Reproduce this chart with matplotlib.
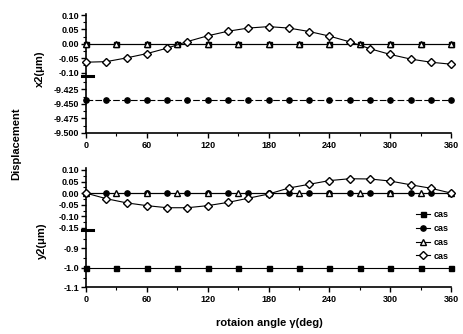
import matplotlib
matplotlib.use("Agg")
import matplotlib.pyplot as plt
from matplotlib.ticker import MultipleLocator, FormatStrFormatter
from matplotlib.lines import Line2D

plt.rcParams['font.family'] = ['Liberation Sans', 'DejaVu Sans']
plt.rcParams['font.weight'] = 'bold'
plt.rcParams['axes.unicode_minus'] = False

# 數據 (讀圖估計)
ang20 = [0, 20, 40, 60, 80, 100, 120, 140, 160, 180, 200, 220, 240, 260, 280, 300, 320, 340, 360]
ang30 = [0, 30, 60, 90, 120, 150, 180, 210, 240, 270, 300, 330, 360]

# x2 (top)
x2_case1 = [0.0, 0.0, 0.0, 0.0, 0.0, 0.0, 0.0, 0.0, 0.0, 0.0, 0.0, 0.0, 0.0]
x2_case2 = [-9.443] * 19
x2_case3 = [0.0, 0.0, 0.0, 0.0, 0.0, 0.0, 0.0, 0.0, 0.0, 0.0, 0.0, 0.0, 0.0]
x2_case4 = [-0.064, -0.062, -0.049, -0.034, -0.015, 0.008, 0.028, 0.044, 0.055, 0.060,
            0.055, 0.043, 0.027, 0.007, -0.017, -0.037, -0.053, -0.064, -0.071]

# y2 (bottom)
y2_case1 = [-1.0, -1.0, -1.0, -1.0, -1.0, -1.0, -1.0, -1.0, -1.0, -1.0, -1.0, -1.0, -1.0]
y2_case2 = [0.0] * 19
y2_case3 = [0.0, 0.0, 0.0, 0.0, 0.0, 0.0, 0.0, 0.0, 0.0, 0.0, 0.0, 0.0, 0.0]
y2_case4 = [0.0, -0.024, -0.042, -0.054, -0.063, -0.063, -0.054, -0.040, -0.022, -0.004,
            0.022, 0.038, 0.054, 0.062, 0.061, 0.052, 0.036, 0.021, 0.0]

legend_labels = ["cas", "cas", "cas", "cas"]

# 線型
sty1 = dict(color='k', lw=0.8, marker='s', ms=3.6, mfc='k', mec='k')
sty2 = dict(color='k', lw=0.8, marker='o', ms=3.8, mfc='k', mec='k')
sty3 = dict(color='k', lw=0.8, marker='^', ms=4.3, mfc='white', mec='k', mew=1.0)
sty4 = dict(color='k', lw=0.8, marker='D', ms=3.9, mfc='white', mec='k', mew=1.0)

fig = plt.figure(figsize=(4.64, 3.34), dpi=100)
L, W = 0.1853, 0.787
ax_tu = fig.add_axes([L, 0.7725, W, 0.1856])
ax_tl = fig.add_axes([L, 0.6018, W, 0.1707])
ax_bu = fig.add_axes([L, 0.3114, W, 0.1847])
ax_bl = fig.add_axes([L, 0.1398, W, 0.1716])

# 上圖 (斷軸: 每條線畫在它所在的那一段)
ax_tu.plot(ang30, x2_case1, zorder=2, clip_on=False, **sty1)
ax_tl.plot(ang20, x2_case2, zorder=2, clip_on=False, dashes=(6, 2), **sty2)
ax_tu.plot(ang30, x2_case3, zorder=3, clip_on=False, **sty3)
ax_tu.plot(ang20, x2_case4, zorder=4, clip_on=False, **sty4)
ax_tu.set_ylim(-0.112, 0.104)
ax_tl.set_ylim(-9.5, -9.402)

# 下圖
ax_bl.plot(ang30, y2_case1, zorder=2, clip_on=False, **sty1)
ax_bu.plot(ang20, y2_case2, zorder=2, clip_on=False, **sty2)
ax_bu.plot(ang30, y2_case3, zorder=3, clip_on=False, **sty3)
ax_bu.plot(ang20, y2_case4, zorder=4, clip_on=False, **sty4)
ax_bu.set_ylim(-0.159, 0.107)
ax_bl.set_ylim(-1.1, -0.806)

# 刻度
ax_tu.yaxis.set_major_locator(MultipleLocator(0.05))
ax_tu.yaxis.set_minor_locator(MultipleLocator(0.025))
ax_tu.yaxis.set_major_formatter(FormatStrFormatter('%.2f'))
ax_tl.yaxis.set_major_locator(MultipleLocator(0.025))
ax_tl.yaxis.set_minor_locator(MultipleLocator(0.0125))
ax_tl.yaxis.set_major_formatter(FormatStrFormatter('%.3f'))
ax_bu.yaxis.set_major_locator(MultipleLocator(0.05))
ax_bu.yaxis.set_minor_locator(MultipleLocator(0.025))
ax_bu.yaxis.set_major_formatter(FormatStrFormatter('%.2f'))
ax_bl.yaxis.set_major_locator(MultipleLocator(0.1))
ax_bl.yaxis.set_minor_locator(MultipleLocator(0.05))
ax_bl.yaxis.set_major_formatter(FormatStrFormatter('%.1f'))

for ax in (ax_tu, ax_tl, ax_bu, ax_bl):
    ax.set_xlim(0, 360)
    ax.xaxis.set_major_locator(MultipleLocator(60))
    ax.xaxis.set_minor_locator(MultipleLocator(30))
    ax.spines['right'].set_visible(False)
    ax.spines['top'].set_visible(False)
    ax.spines['left'].set_linewidth(1.2)
    ax.spines['bottom'].set_linewidth(1.2)
    ax.patch.set_alpha(0)
    ax.tick_params(which='major', direction='out', length=3.5, width=1.0, labelsize=6.5, pad=1.5)
    ax.tick_params(which='minor', direction='out', length=2, width=0.8)
    for lab in ax.get_xticklabels() + ax.get_yticklabels():
        lab.set_fontweight('bold')

for ax in (ax_tu, ax_bu):
    ax.spines['bottom'].set_visible(False)
    ax.tick_params(axis='x', which='both', bottom=False, labelbottom=False)
    # 斷軸記號
    ax.plot([-0.012, 0.018], [0.0, 0.0], transform=ax.transAxes, color='k', lw=2.2,
            clip_on=False, zorder=5)

for ax in (ax_tl, ax_bl):
    ax.tick_params(axis='x', labelsize=6.5, pad=2)

# 標籤
fig.text(0.086, 0.795, 'x2(\u03bcm)', rotation=90, ha='center', va='center', fontsize=8, fontweight='bold')
fig.text(0.090, 0.28, 'y2(\u03bcm)', rotation=90, ha='center', va='center', fontsize=8, fontweight='bold')
fig.text(0.036, 0.57, 'Displacement', rotation=90, ha='center', va='center', fontsize=8, fontweight='bold')
fig.text(0.58, 0.033, 'rotaion angle \u03b3(deg)', ha='center', va='center', fontsize=8, fontweight='bold')

# 圖例
handles = [Line2D([], [], **s) for s in (sty1, sty2, sty3, sty4)]
fig.legend(handles, legend_labels, loc='upper left', bbox_to_anchor=(0.897, 0.372),
           frameon=False, fontsize=6.5, handlelength=1.5, handletextpad=0.4,
           labelspacing=0.55, borderpad=0, borderaxespad=0)

plt.savefig("out.png", dpi=100)
